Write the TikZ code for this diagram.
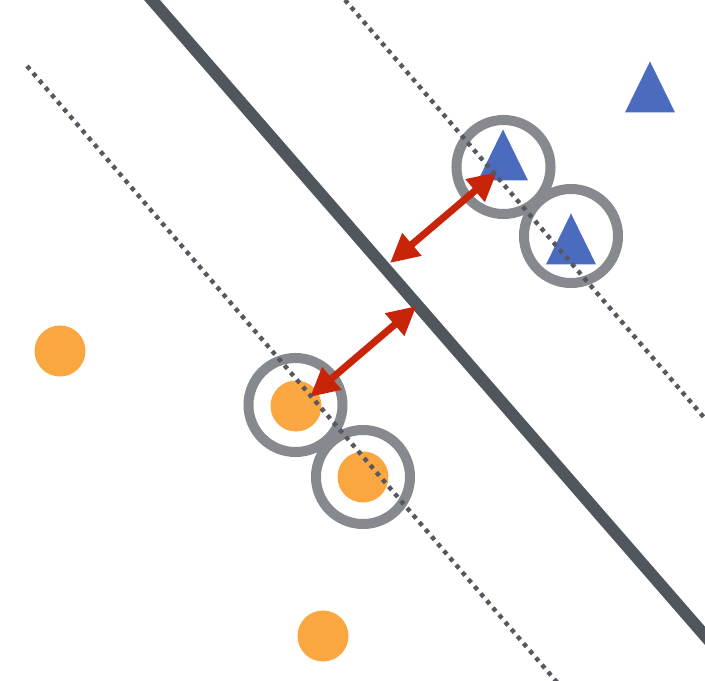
\documentclass[tikz,border=0pt]{standalone}
\usepackage{tikz}
\usetikzlibrary{arrows.meta,shapes.geometric}

\definecolor{planegray}{RGB}{81,86,93}
\definecolor{dotgray}{RGB}{85,88,95}
\definecolor{ringgray}{RGB}{134,137,141}
\definecolor{triblue}{RGB}{74,107,190}
\definecolor{dotorange}{RGB}{250,166,65}
\definecolor{arrowred}{RGB}{200,36,10}

\begin{document}
\begin{tikzpicture}[x=0.025cm,y=-0.025cm,thick]
    % `point' is an orange sample, `tri' a blue one.
    % `support' is the grey ring round a support vector.
    % `margin' and `plane' are the dotted and the solid lines.
    \tikzstyle{point} = [circle,fill=dotorange,minimum size=1.275cm,inner sep=0pt]
    \tikzstyle{tri} = [isosceles triangle,isosceles triangle stretches,shape border rotate=90,fill=triblue,minimum width=1.25cm,minimum height=1.275cm,inner sep=0pt,anchor=apex]
    \tikzstyle{support} = [circle,draw=ringgray,line width=0.25cm,minimum size=2.35cm,inner sep=0pt]
    \tikzstyle{margin} = [draw=dotgray,line width=0.11cm,dash pattern=on 0.11cm off 0.125cm]
    \tikzstyle{plane} = [draw=planegray,line width=0.3cm]
    \tikzstyle{gap} = [draw=arrowred,line width=0.175cm,{Triangle[length=0.72cm,width=0.7cm]}-{Triangle[length=0.72cm,width=0.7cm]}]
    %
    \useasboundingbox (0,0) rectangle (705,681);
    \clip (0,0) rectangle (705,681);

    % samples
    \node[point] (o1) at (60,351) {};
    \node[point] (o2) at (296,406) {};
    \node[point] (o3) at (363,477) {};
    \node[point] (o4) at (323,636) {};
    \node[tri] (t0) at (650,60) {};
    \node[tri] (t1) at (503,128) {};
    \node[tri] (t2) at (571,212) {};

    % support vectors
    \node[support] (r1) at (503.5,167) {};
    \node[support] (r2) at (571,236) {};
    \node[support] (r3) at (295.5,405) {};
    \node[support] (r4) at (363,477) {};

    % margins and separating line
    \coordinate (up0) at (345,0);
    \coordinate (up1) at (1033,800);
    \coordinate (lo0) at (27,66);
    \coordinate (lo1) at (629,766);
    \coordinate (pl0) at (134.6,-20);
    \coordinate (pl1) at (813,760);
    \draw[plane] (pl0) -- (pl1);

    % distances to the line
    \coordinate (s1) at (497,172);
    \coordinate (h1) at (390,263);
    \coordinate (h2) at (416.5,306);
    \coordinate (s2) at (310,397);
    \draw[gap] (s1) -- (h1);
    \draw[gap] (h2) -- (s2);

    \draw[margin] (up0) -- (up1);
    \draw[margin] (lo0) -- (lo1);
\end{tikzpicture}
\end{document}
